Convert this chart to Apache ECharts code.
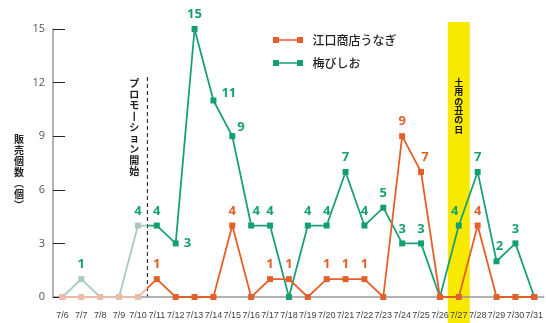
<!DOCTYPE html>
<html><head><meta charset="utf-8">
<script src="https://cdn.jsdelivr.net/npm/echarts@6/dist/echarts.min.js"></script>
<style>html,body{margin:0;padding:0;background:#fff}#c{width:546px;height:323px}</style>
</head><body><div id="c"></div>
<script>
// ---- data ----
const categories = ['7/6','7/7','7/8','7/9','7/10','7/11','7/12','7/13','7/14','7/15','7/16','7/17','7/18','7/19','7/20','7/21','7/22','7/23','7/24','7/25','7/26','7/27','7/28','7/29','7/30','7/31'];
const unagiValues = [0,0,0,0,0,1,0,0,0,4,0,1,1,0,1,1,1,0,9,7,0,0,4,0,0,0];
const umeValues   = [0,1,0,0,4,4,3,15,11,9,4,4,0,4,4,7,4,5,3,3,0,4,7,2,3,0];
const yTicks = [0,3,6,9,12,15];
const unagiName = '江口商店うなぎ';
const umeName = '梅びしお';
const yAxisTitle = ['販','売','個','数','︵','個','︶'];
const promoLabel = ['プ','ロ','モ','丨','シ','ョ','ン','開','始'];
const promoLastBefore = '7/10';
const promoFirstAfter = '7/11';
const eventDay = '7/27';
const eventLabel = ['土','用','の','丑','の','日'];

// ---- styles (separate from data) ----
const umeLabelTweaks = {6:{position:'right'},8:{position:'right',offset:[0,-7]},9:{position:'right',offset:[-3,-9]},10:{offset:[5,0]},21:{offset:[-4,0]},23:{offset:[3,0]}};
const unagiLabelTweaks = {19:{offset:[4,0]}};
const C_UME = '#1b9f7c', C_UME_DOT = '#12a070', C_UME_LBL = '#19a070', C_UME_FADE = '#a9cabd';
const C_UNA = '#e4602a', C_UNA_FADE = '#e9bba8';
const promoStartIdx = categories.indexOf(promoFirstAfter);

function buildData(vals, tweaks, fade, full){
  return vals.map((v,i)=> {
    const d = {value:v, itemStyle:{color: i < promoStartIdx ? fade : full}};
    if (tweaks[i]) d.label = tweaks[i];
    return d;
  });
}
const lblFmt = p => (p.value === 0 ? '' : String(p.value));

const chart = echarts.init(document.getElementById('c'), null, {renderer:'canvas'});
const option = {
  animation:false,
  grid:{left:53, right:0, top:29, bottom:26, containLabel:false},
  legend:{
    orient:'vertical', left:268, top:29, itemWidth:31, itemHeight:6, itemGap:11,
    icon:'path://M0,0h6v6h-6zM6,2.2h18v1.6h-18zM24,0h6v6h-6z',
    itemStyle:{borderWidth:0},
    textStyle:{fontSize:12, color:'#222', fontFamily:'Noto Sans CJK JP', fontWeight:500, padding:[0,0,0,4]},
    data:[{name:unagiName, itemStyle:{color:C_UNA}},{name:umeName, itemStyle:{color:C_UME_DOT}}]
  },
  xAxis:{
    type:'category', data:categories, boundaryGap:true,
    axisLine:{lineStyle:{color:'#999', width:1.5}},
    axisTick:{inside:true, length:5, lineStyle:{color:'#555'}},
    axisLabel:{interval:0, fontSize:9, color:'#444', margin:14, fontFamily:'"Liberation Sans", sans-serif'}
  },
  yAxis:{
    type:'value', min:yTicks[0], max:yTicks[yTicks.length-1], interval:yTicks[1]-yTicks[0],
    splitLine:{show:false},
    axisLine:{show:true, lineStyle:{color:'#999', width:1.5}},
    axisTick:{show:true, inside:true, length:12, lineStyle:{color:'#222', width:1}},
    axisLabel:{fontSize:11, color:'#555', margin:8, padding:[10,0,0,0], fontFamily:'Open Sans'}
  },
  series:[
    {name:umeName, type:'line', data:buildData(umeValues, umeLabelTweaks, C_UME_FADE, C_UME_DOT), color:C_UME_DOT,
      symbol:'rect', symbolSize:6, showAllSymbol:true, lineStyle:{width:1.8, color:C_UME}, z:2,
      label:{show:true, position:'top', distance:5, formatter:lblFmt, color:C_UME_LBL, fontSize:13, fontWeight:'bold', fontFamily:'Open Sans'}},
    {name:unagiName, type:'line', data:buildData(unagiValues, unagiLabelTweaks, C_UNA_FADE, C_UNA), color:C_UNA,
      symbol:'rect', symbolSize:6, showAllSymbol:true, lineStyle:{width:1.8, color:C_UNA}, z:3,
      label:{show:true, position:'top', distance:5, formatter:lblFmt, color:C_UNA, fontSize:13, fontWeight:'bold', fontFamily:'Open Sans'}}
  ]
};
chart.setOption(option);

const xA = chart.convertToPixel({xAxisIndex:0}, promoLastBefore);
const xB = chart.convertToPixel({xAxisIndex:0}, promoFirstAfter);
const xE = chart.convertToPixel({xAxisIndex:0}, eventDay);
const bw = xB - xA;
const xPromo = (xA + xB) / 2;
const y0 = chart.convertToPixel({yAxisIndex:0}, 0);
const W = chart.getWidth();
const f = xPromo / W;
function grad(fade, full){
  return new echarts.graphic.LinearGradient(0, 0, W, 0, [
    {offset:0, color:fade},{offset:f, color:fade},{offset:f, color:full},{offset:1, color:full}
  ], true);
}
chart.setOption({
  series:[
    {name:umeName, lineStyle:{color:grad(C_UME_FADE, C_UME)}},
    {name:unagiName, lineStyle:{color:grad(C_UNA_FADE, C_UNA)}}
  ],
  graphic:[
    {type:'rect', z:-10, silent:true, shape:{x:xE - bw*0.58, y:22, width:bw*1.16, height:323-22}, style:{fill:'#f7ea00'}},
    {type:'line', z:-5, silent:true, shape:{x1:xPromo, y1:77, x2:xPromo, y2:y0}, style:{stroke:'#111', lineWidth:1, lineDash:[4,3]}},
    {type:'text', silent:true, x:xPromo - 13, y:78, style:{text:promoLabel.join('\n'), font:'bold 10px "Noto Sans CJK JP"', fill:'#222', align:'center', verticalAlign:'top', lineHeight:11}},
    {type:'text', silent:true, x:xE, y:78, style:{text:eventLabel.join('\n'), font:'bold 9px "Noto Sans CJK JP"', fill:'#111', align:'center', verticalAlign:'top', lineHeight:9.3}},
    {type:'text', silent:true, x:19, y:134, style:{text:yAxisTitle.join('\n'), font:'bold 10px "Noto Sans CJK JP"', fill:'#222', align:'center', verticalAlign:'top', lineHeight:11}}
  ]
});
</script>
</body></html>
